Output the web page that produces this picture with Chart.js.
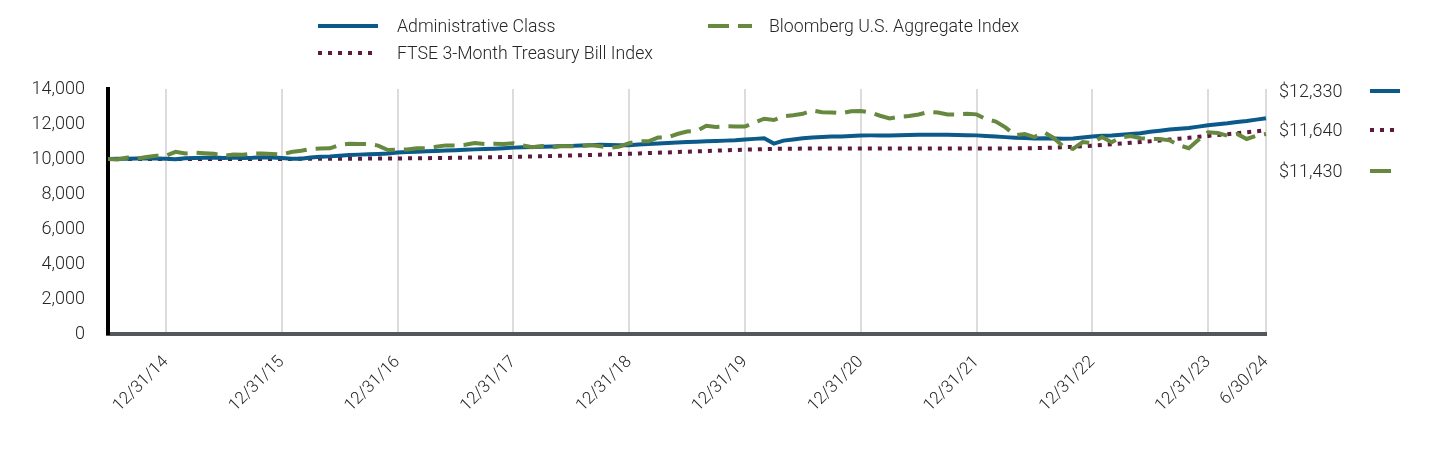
<!DOCTYPE html>
<html>
<head>
<meta charset="utf-8">
<script src="https://cdn.jsdelivr.net/npm/chart.js@4"></script>
<style>
  html, body { margin: 0; padding: 0; background: #fff; }
  #wrap { width: 1440px; height: 456px; position: relative; }
</style>
</head>
<body>
<div id="wrap"><canvas id="grafico"></canvas></div>
<script>
// month-end dates, 6/30/14 .. 6/30/24 (one per month)
const meses = [
  '6/30/14','7/31/14','8/31/14','9/30/14','10/31/14','11/30/14','12/31/14',
  '1/31/15','2/28/15','3/31/15','4/30/15','5/31/15','6/30/15','7/31/15','8/31/15','9/30/15','10/31/15','11/30/15','12/31/15',
  '1/31/16','2/29/16','3/31/16','4/30/16','5/31/16','6/30/16','7/31/16','8/31/16','9/30/16','10/31/16','11/30/16','12/31/16',
  '1/31/17','2/28/17','3/31/17','4/30/17','5/31/17','6/30/17','7/31/17','8/31/17','9/30/17','10/31/17','11/30/17','12/31/17',
  '1/31/18','2/28/18','3/31/18','4/30/18','5/31/18','6/30/18','7/31/18','8/31/18','9/30/18','10/31/18','11/30/18','12/31/18',
  '1/31/19','2/28/19','3/31/19','4/30/19','5/31/19','6/30/19','7/31/19','8/31/19','9/30/19','10/31/19','11/30/19','12/31/19',
  '1/31/20','2/29/20','3/31/20','4/30/20','5/31/20','6/30/20','7/31/20','8/31/20','9/30/20','10/31/20','11/30/20','12/31/20',
  '1/31/21','2/28/21','3/31/21','4/30/21','5/31/21','6/30/21','7/31/21','8/31/21','9/30/21','10/31/21','11/30/21','12/31/21',
  '1/31/22','2/28/22','3/31/22','4/30/22','5/31/22','6/30/22','7/31/22','8/31/22','9/30/22','10/31/22','11/30/22','12/31/22',
  '1/31/23','2/28/23','3/31/23','4/30/23','5/31/23','6/30/23','7/31/23','8/31/23','9/30/23','10/31/23','11/30/23','12/31/23',
  '1/31/24','2/29/24','3/31/24','4/30/24','5/31/24','6/30/24'
];

// dates that get a tick label + grid line
const rotulos = ['12/31/14','12/31/15','12/31/16','12/31/17','12/31/18','12/31/19',
                 '12/31/20','12/31/21','12/31/22','12/31/23','6/30/24'];

const nomes = ['Administrative Class', 'FTSE 3-Month Treasury Bill Index', 'Bloomberg U.S. Aggregate Index'];

// valores estimados do grafico
const classeAdm = [
  10000, 10020, 10010, 10030, 10040, 10030, 10010,
  9980, 10040, 10060, 10070, 10080, 10060, 10080, 10060, 10070, 10100, 10090, 10060,
  10010, 10020, 10090, 10130, 10150, 10190, 10230, 10250, 10270, 10290, 10320, 10370,
  10400, 10420, 10440, 10460, 10480, 10500, 10530, 10550, 10570, 10590, 10620, 10650,
  10670, 10680, 10700, 10720, 10740, 10750, 10770, 10790, 10810, 10800, 10790, 10790,
  10830, 10860, 10890, 10920, 10940, 10970, 10990, 11010, 11030, 11050, 11070, 11110,
  11150, 11180, 10880, 11050, 11120, 11190, 11230, 11260, 11280, 11290, 11320, 11340,
  11350, 11350, 11340, 11360, 11370, 11380, 11390, 11390, 11380, 11370, 11360, 11350,
  11320, 11290, 11250, 11220, 11200, 11170, 11180, 11170, 11160, 11170, 11230, 11280,
  11330, 11340, 11390, 11430, 11470, 11560, 11620, 11680, 11730, 11770, 11850, 11930,
  11990, 12040, 12110, 12170, 12250, 12330
];

const tBill = [
  10000, 10000, 10001, 10001, 10001, 10001, 10002,
  10002, 10002, 10002, 10002, 10002, 10002, 10002, 10002, 10002, 10003, 10003, 10004,
  10006, 10008, 10010, 10012, 10014, 10016, 10018, 10020, 10022, 10024, 10026, 10030,
  10036, 10042, 10048, 10055, 10062, 10070, 10078, 10086, 10094, 10102, 10110, 10118,
  10130, 10143, 10156, 10170, 10185, 10200, 10216, 10232, 10248, 10265, 10283, 10301,
  10320, 10339, 10358, 10378, 10398, 10418, 10438, 10458, 10477, 10496, 10514, 10533,
  10550, 10565, 10580, 10590, 10592, 10593, 10594, 10595, 10595, 10596, 10596, 10596,
  10597, 10597, 10598, 10598, 10598, 10599, 10599, 10599, 10600, 10600, 10600, 10601,
  10601, 10602, 10604, 10608, 10614, 10622, 10634, 10650, 10670, 10695, 10725, 10760,
  10800, 10840, 10880, 10925, 10970, 11015, 11060, 11110, 11160, 11210, 11265, 11320,
  11370, 11420, 11470, 11525, 11580, 11640
];

const bloomberg = [
  10000, 9975, 10085, 10016, 10114, 10186, 10195,
  10409, 10311, 10359, 10322, 10297, 10185, 10256, 10242, 10312, 10314, 10287, 10254,
  10396, 10470, 10566, 10606, 10609, 10800, 10868, 10856, 10849, 10767, 10512, 10527,
  10548, 10619, 10614, 10696, 10778, 10767, 10813, 10910, 10858, 10865, 10851, 10901,
  10776, 10673, 10742, 10662, 10738, 10725, 10727, 10796, 10727, 10642, 10706, 10903,
  11019, 11012, 11224, 11227, 11427, 11571, 11596, 11897, 11834, 11870, 11864, 11856,
  12084, 12301, 12229, 12447, 12505, 12584, 12772, 12669, 12663, 12606, 12729, 12747,
  12655, 12473, 12317, 12414, 12455, 12542, 12683, 12659, 12549, 12545, 12583, 12550,
  12280, 12143, 11805, 11358, 11431, 11251, 11526, 11200, 10716, 10577, 10966, 10917,
  11253, 10962, 11240, 11309, 11186, 11146, 11138, 11067, 10786, 10616, 11097, 11522,
  11491, 11329, 11433, 11144, 11333, 11430
];

// valores finais mostrados a direita
const valoresFinais = ['$12,330', '$11,640', '$11,430'];

const AZUL = '#0b5a8a';
const VINHO = '#5e1a3e';
const VERDE = '#66883f';
const FONTE = 'Roboto, "Liberation Sans", sans-serif';
const COR_TEXTO = '#262626';

const series = [
  { label: nomes[0], data: classeAdm, borderColor: AZUL, borderDash: [], order: 1 },
  { label: nomes[1], data: tBill, borderColor: VINHO, borderDash: [4, 6], order: 2 },
  { label: nomes[2], data: bloomberg, borderColor: VERDE, borderDash: [21, 9], order: 0 }
];

function amostra(ctx, ds, x0, x1, y) {
  ctx.save();
  ctx.strokeStyle = ds.borderColor;
  ctx.lineWidth = 4;
  ctx.setLineDash(ds.borderDash);
  ctx.beginPath();
  ctx.moveTo(x0, y);
  ctx.lineTo(x1, y);
  ctx.stroke();
  ctx.restore();
}

// legenda no topo e valores finais na direita
const extras = {
  id: 'extras',
  afterDraw(chart) {
    const ctx = chart.ctx;
    const ds = chart.data.datasets;
    ctx.save();
    ctx.font = '300 17.7px ' + FONTE;
    ctx.fillStyle = COR_TEXTO;
    ctx.textBaseline = 'middle';
    ctx.textAlign = 'left';

    amostra(ctx, ds[0], 318, 378, 26);
    ctx.fillText(ds[0].label, 397, 28);
    amostra(ctx, ds[1], 318, 378, 53);
    ctx.fillText(ds[1].label, 397, 55);
    amostra(ctx, ds[2], 708, 752, 26);
    ctx.fillText(ds[2].label, 769, 28);

    const ys = [91, 130, 171];
    ctx.font = '300 18px ' + FONTE;
    ds.forEach((d, i) => {
      ctx.fillText(valoresFinais[i], 1279, ys[i] + 1);
      amostra(ctx, d, 1370, 1400, ys[i]);
    });
    ctx.restore();
  }
};

new Chart(document.getElementById('grafico'), {
  type: 'line',
  data: {
    labels: meses,
    datasets: series.map(s => ({
      label: s.label,
      data: s.data,
      borderColor: s.borderColor,
      borderDash: s.borderDash,
      borderWidth: 4,
      borderCapStyle: 'butt',
      pointRadius: 0,
      tension: 0,
      fill: false,
      order: s.order
    }))
  },
  options: {
    responsive: true,
    maintainAspectRatio: false,
    animation: false,
    layout: { padding: { top: 89, right: 174, left: 0, bottom: 0 } },
    plugins: { legend: { display: false }, tooltip: { enabled: false } },
    scales: {
      x: {
        offset: false,
        grid: { color: '#dcdcdc', lineWidth: 2, drawTicks: false },
        border: { color: '#53565a', width: 4 },
        ticks: {
          autoSkip: false,
          maxRotation: 45,
          minRotation: 45,
          padding: 18,
          color: COR_TEXTO,
          font: { family: FONTE, size: 17, weight: 300 },
          callback(v, i) {
            const m = meses[i];
            return rotulos.includes(m) ? m : null;
          }
        },
        afterFit(scale) { scale.height = 122; }
      },
      y: {
        min: 0,
        max: 14000,
        grid: { display: false, drawTicks: false },
        border: { color: '#000', width: 4 },
        ticks: {
          stepSize: 2000,
          padding: 23,
          color: COR_TEXTO,
          font: { family: FONTE, size: 18, weight: 300 },
          callback: v => v.toLocaleString('en-US')
        },
        afterFit(scale) { scale.width = 108; }
      }
    }
  },
  plugins: [extras]
});
</script>
</body>
</html>
